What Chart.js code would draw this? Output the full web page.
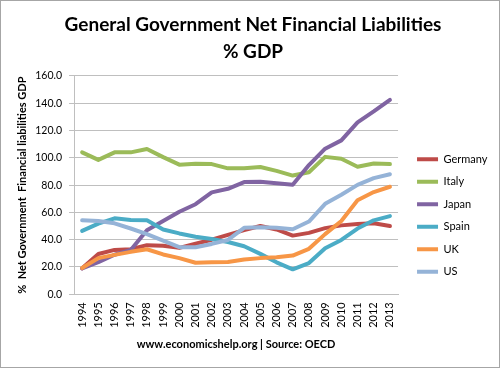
<!DOCTYPE html>
<html>
<head>
<meta charset="utf-8">
<script src="https://cdn.jsdelivr.net/npm/chart.js@4/dist/chart.umd.min.js"></script>
<style>
html,body{margin:0;padding:0;background:#fff;}
#wrap{position:absolute;left:0;top:0;width:500px;height:368px;}
</style>
</head>
<body>
<div id="wrap"><canvas id="c" width="500" height="368"></canvas></div>
<script>
const years = ['1994','1995','1996','1997','1998','1999','2000','2001','2002','2003','2004','2005','2006','2007','2008','2009','2010','2011','2012','2013'];
const germany = [19, 29.5, 32.5, 33, 36, 35.5, 34, 37, 40, 43.5, 47, 50, 47.5, 43, 45, 48.5, 50.5, 51.5, 52, 50];
const italy = [104, 98.5, 104, 104, 106.5, 100.5, 95, 95.7, 95.4, 92.3, 92.3, 93.3, 90.4, 87, 89.4, 100.7, 99.3, 93.5, 95.9, 95.4];
const japan = [19, 23.5, 29, 32.5, 47, 53.7, 60.5, 66, 74.7, 77.3, 82.2, 82.4, 81.4, 80.2, 94.7, 106.7, 112.8, 126, 134, 142.4];
const spain = [46.5, 51.8, 55.7, 54.5, 54.2, 47.5, 44.6, 42.2, 40.5, 38.3, 35.2, 29.6, 23.4, 18.3, 22.9, 33.7, 39.8, 48.2, 54.2, 57.3];
const uk = [19.3, 26.5, 28.9, 31.1, 33, 29.2, 26.5, 23.1, 23.4, 23.6, 25.5, 26.5, 27.2, 28.4, 33.3, 44.1, 53.7, 68.9, 74.9, 78.8];
const us = [54.2, 53.7, 52, 48.2, 44.1, 39.3, 34.5, 34.5, 36.9, 39.8, 48.7, 49.2, 48.7, 47.7, 53.3, 66.3, 73, 80.2, 85.1, 88];
const seriesNames = ['Germany','Italy','Japan','Spain','UK','US'];
const seriesData = [germany, italy, japan, spain, uk, us];
const seriesColors = ['#be4b48','#9bbb59','#8064a2','#4bacc6','#f79646','#95b3d7'];
const titleLines = ['General Government Net Financial Liabilities','% GDP'];
const yTitle = '%  Net Government  Financial liabilities GDP';
const xTitle = 'www.economicshelp.org | Source: OECD';

const FONT = 'Lato, "Open Sans", sans-serif';
const LEGEND_PAD = 11.5;

const borderPlugin = {
  id: 'frame',
  beforeDraw(chart) {
    const ctx = chart.ctx;
    ctx.save();
    ctx.fillStyle = '#fff';
    ctx.fillRect(0, 0, chart.width, chart.height);
    ctx.strokeStyle = '#a6a6a6';
    ctx.lineWidth = 1;
    ctx.strokeRect(0.5, 0.5, chart.width - 1, chart.height - 1);
    ctx.restore();
  }
};

// nudge the library legend: a bit away from the plot and below its centre
const legendNudge = {
  id: 'legendNudge',
  afterLayout(chart) {
    const lg = chart.legend;
    const ca = chart.chartArea;
    if (!lg) return;
    const dx = (ca.right + 19) - (lg.left + LEGEND_PAD);
    const dy = 40;
    lg.left += dx; lg.right += dx;
    lg.top += dy; lg.bottom += dy;
  }
};

new Chart(document.getElementById('c'), {
  type: 'line',
  data: {
    labels: years,
    datasets: seriesNames.map((n, i) => ({
      label: n,
      data: seriesData[i],
      borderColor: seriesColors[i],
      backgroundColor: seriesColors[i],
      borderWidth: 4,
      pointRadius: 0,
      pointStyle: 'line',
      tension: 0,
      borderJoinStyle: 'round',
      borderCapStyle: 'round',
      order: seriesNames.length - i
    }))
  },
  options: {
    responsive: false,
    animation: false,
    devicePixelRatio: 1,
    layout: { padding: { left: 16, right: 10, top: 0, bottom: 17 } },
    plugins: {
      title: {
        display: true,
        text: titleLines,
        color: '#000',
        font: { family: FONT, size: 19, weight: 'bold', lineHeight: 1.42 },
        padding: { top: 11.5, bottom: 10.5 }
      },
      legend: {
        position: 'right',
        align: 'center',
        labels: {
          sort: (a, b) => a.datasetIndex - b.datasetIndex,
          usePointStyle: true,
          pointStyle: 'line',
          pointStyleWidth: 21,
          boxHeight: 11,
          padding: LEGEND_PAD,
          color: '#000',
          font: { family: FONT, size: 11 }
        }
      },
      tooltip: { enabled: false }
    },
    scales: {
      x: {
        offset: true,
        grid: { display: false, drawTicks: false },
        border: { display: true, color: '#bfbfbf', width: 1 },
        ticks: {
          color: '#000',
          font: { family: FONT, size: 11 },
          minRotation: 90,
          maxRotation: 90,
          padding: 8,
          autoSkip: false
        },
        title: {
          display: true,
          text: xTitle,
          color: '#000',
          font: { family: FONT, size: 11, weight: 'bold' },
          padding: { top: 2, bottom: 0 }
        }
      },
      y: {
        min: 0,
        max: 160,
        grid: { color: '#bfbfbf', lineWidth: 1, drawTicks: true, tickLength: 5 },
        border: { display: true, color: '#bfbfbf', width: 1 },
        ticks: {
          stepSize: 20,
          color: '#000',
          font: { family: FONT, size: 10.5 },
          padding: 7,
          callback: (v) => Number(v).toFixed(1)
        },
        title: {
          display: true,
          text: yTitle,
          color: '#000',
          font: { family: FONT, size: 11, weight: 'bold' },
          padding: { top: 0, bottom: -1 }
        }
      }
    }
  },
  plugins: [borderPlugin, legendNudge]
});
</script>
</body>
</html>
